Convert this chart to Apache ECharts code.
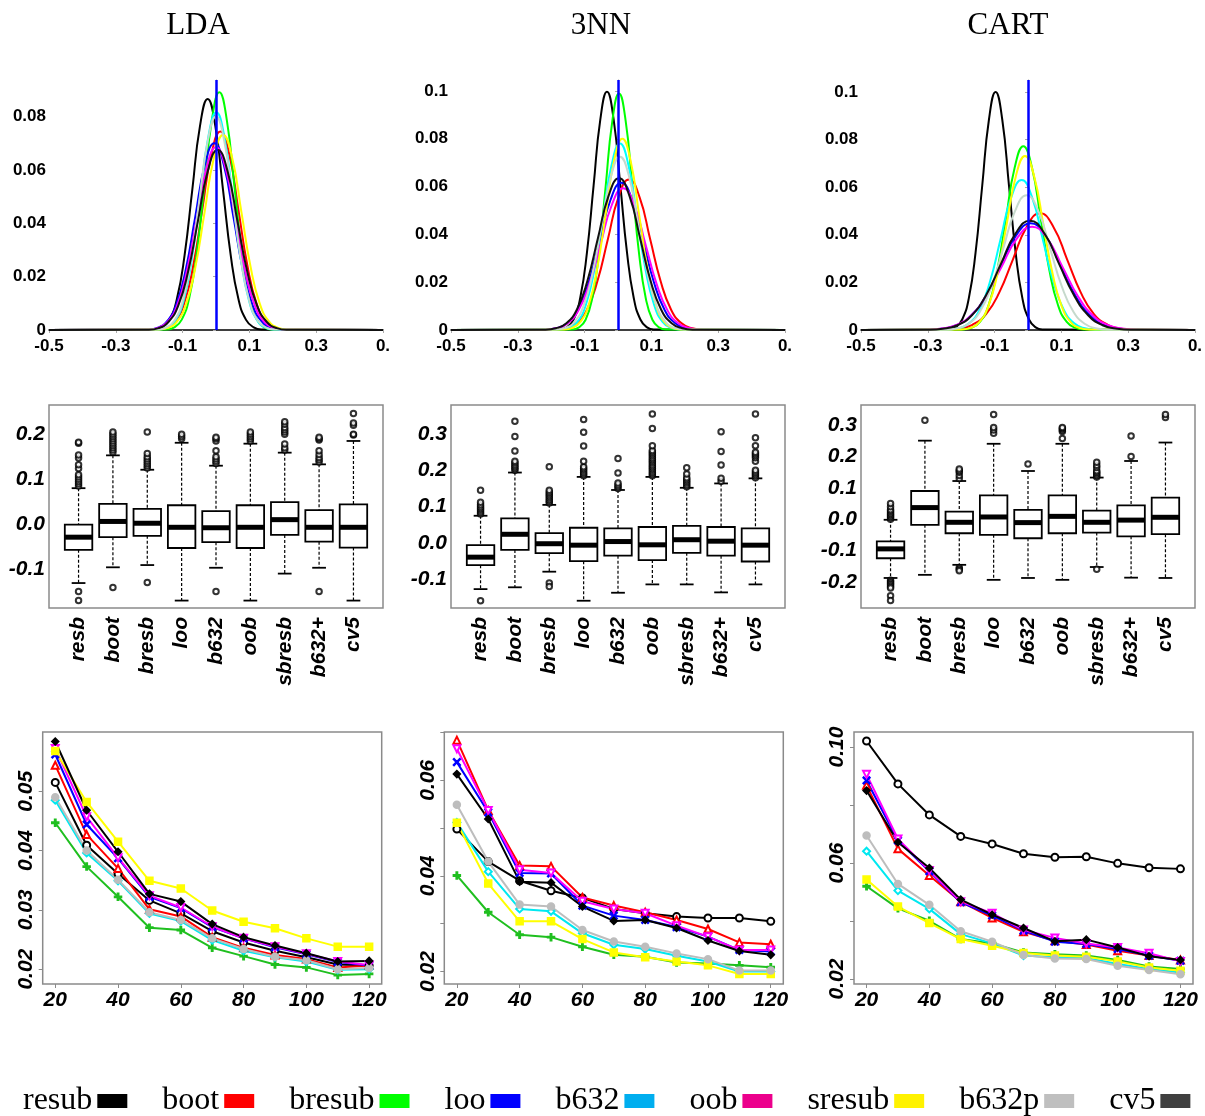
<!DOCTYPE html>
<html><head><meta charset="utf-8">
<script src="https://cdn.jsdelivr.net/npm/echarts@6/dist/echarts.min.js"></script>
<style>html,body{margin:0;padding:0;background:#fff}#chart{width:1205px;height:1116px}</style>
</head><body><div id="chart"></div>
<script>
// ---------------- DATA ----------------
const methods = ['resub','boot','bresub','loo','b632','oob','sresub','b632p','cv5'];
const boxCats = ['resb','boot','bresb','loo','b632','oob','sbresb','b632+','cv5'];
const panelTitles = ['LDA','3NN','CART'];
const sampleSizes = [20,30,40,50,60,70,80,90,100,110,120];
const densXTicks = [-0.5,-0.3,-0.1,0.1,0.3,0.5];

// density curves: x positions and density values
const lda_resub_x = [-0.5,-0.186,-0.163,-0.140,-0.117,-0.094,-0.071,-0.048,-0.025,-0.002,0.021,0.044,0.067,0.090,0.113,0.136,0.5];
const lda_resub_y = [0,0.0002,0.001,0.0038,0.0117,0.0281,0.0525,0.0764,0.0866,0.0764,0.0525,0.0281,0.0117,0.0038,0.001,0.0002,0];
const lda_boot_x = [-0.5,-0.176,-0.149,-0.122,-0.095,-0.068,-0.041,-0.014,0.013,0.040,0.067,0.094,0.121,0.148,0.175,0.202,0.5];
const lda_boot_y = [0,0.0002,0.0008,0.0033,0.0101,0.0242,0.0451,0.0657,0.0744,0.0657,0.0451,0.0242,0.0101,0.0033,0.0008,0.0002,0];
const lda_bresub_x = [-0.5,-0.1475,-0.125,-0.1025,-0.080,-0.0575,-0.035,-0.0125,0.010,0.0325,0.055,0.0775,0.100,0.1225,0.145,0.1675,0.5];
const lda_bresub_y = [0,0.0002,0.001,0.0039,0.0121,0.0289,0.0540,0.0786,0.0891,0.0786,0.0540,0.0289,0.0121,0.0039,0.001,0.0002,0];
const lda_loo_x = [-0.5,-0.2045,-0.176,-0.1475,-0.119,-0.0905,-0.062,-0.0335,-0.005,0.0235,0.052,0.0805,0.109,0.1375,0.166,0.1945,0.5];
const lda_loo_y = [0,0.0002,0.0008,0.0031,0.0095,0.0227,0.0425,0.0618,0.070,0.0618,0.0425,0.0227,0.0095,0.0031,0.0008,0.0002,0];
const lda_b632_x = [-0.5,-0.1705,-0.146,-0.1215,-0.097,-0.0725,-0.048,-0.0235,0.001,0.0255,0.050,0.0745,0.099,0.1235,0.148,0.1725,0.5];
const lda_b632_y = [0,0.0002,0.0009,0.0036,0.0110,0.0265,0.0495,0.0720,0.0816,0.0720,0.0495,0.0265,0.0110,0.0036,0.0009,0.0002,0];
const lda_oob_x = [-0.5,-0.203,-0.174,-0.145,-0.116,-0.087,-0.058,-0.029,0,0.029,0.058,0.087,0.116,0.145,0.174,0.203,0.5];
const lda_oob_y = [0,0.0002,0.0008,0.0030,0.0093,0.0222,0.0415,0.0605,0.0685,0.0605,0.0415,0.0222,0.0093,0.0030,0.0008,0.0002,0];
const lda_sresub_x = [-0.5,-0.1715,-0.144,-0.1165,-0.089,-0.0615,-0.034,-0.0065,0.021,0.0485,0.076,0.1035,0.131,0.1585,0.186,0.2135,0.5];
const lda_sresub_y = [0,0.0002,0.0008,0.0032,0.0099,0.0237,0.0443,0.0645,0.0731,0.0645,0.0443,0.0237,0.0099,0.0032,0.0008,0.0002,0];
const lda_b632p_x = [-0.5,-0.175,-0.15,-0.125,-0.1,-0.075,-0.05,-0.025,0,0.025,0.05,0.075,0.1,0.125,0.15,0.175,0.5];
const lda_b632p_y = [0,0.0002,0.0009,0.0035,0.0108,0.0260,0.0485,0.0706,0.080,0.0706,0.0485,0.0260,0.0108,0.0035,0.0009,0.0002,0];
const lda_cv5_x = [-0.5,-0.2015,-0.172,-0.1425,-0.113,-0.0835,-0.054,-0.0245,0.005,0.0345,0.064,0.0935,0.123,0.1525,0.182,0.2115,0.5];
const lda_cv5_y = [0,0.0001,0.0007,0.0030,0.0091,0.0219,0.0409,0.0596,0.0675,0.0596,0.0409,0.0219,0.0091,0.0030,0.0007,0.0001,0];

const nn_resub_x = [-0.5,-0.173,-0.153,-0.133,-0.113,-0.093,-0.073,-0.053,-0.033,-0.013,0.007,0.027,0.047,0.067,0.087,0.107,0.5];
const nn_resub_y = [0,0.0002,0.0011,0.0044,0.0135,0.0324,0.0605,0.0880,0.0997,0.0880,0.0605,0.0324,0.0135,0.0044,0.0011,0.0002,0];
const nn_boot_x = [-0.5,-0.1875,-0.156,-0.1245,-0.093,-0.0615,-0.030,0.0015,0.033,0.0645,0.096,0.1275,0.159,0.1905,0.222,0.2535,0.5];
const nn_boot_y = [0,0.0001,0.0007,0.0028,0.0085,0.0205,0.0382,0.0556,0.063,0.0556,0.0382,0.0205,0.0085,0.0028,0.0007,0.0001,0];
const nn_bresub_x = [-0.5,-0.137,-0.117,-0.097,-0.077,-0.057,-0.037,-0.017,0.003,0.023,0.043,0.063,0.083,0.103,0.123,0.143,0.5];
const nn_bresub_y = [0,0.0002,0.0011,0.0043,0.0134,0.0321,0.0600,0.0874,0.099,0.0874,0.0600,0.0321,0.0134,0.0043,0.0011,0.0002,0];
const nn_loo_x = [-0.5,-0.2175,-0.185,-0.1525,-0.120,-0.0875,-0.055,-0.0225,0.010,0.0425,0.075,0.1075,0.140,0.1725,0.205,0.2375,0.5];
const nn_loo_y = [0,0.0001,0.0007,0.0027,0.0083,0.0200,0.0374,0.0544,0.0616,0.0544,0.0374,0.0200,0.0083,0.0027,0.0007,0.0001,0];
const nn_b632_x = [-0.5,-0.1725,-0.147,-0.1215,-0.096,-0.0705,-0.045,-0.0195,0.006,0.0315,0.057,0.0825,0.108,0.1335,0.159,0.1845,0.5];
const nn_b632_y = [0,0.0002,0.0009,0.0034,0.0106,0.0253,0.0473,0.0688,0.078,0.0688,0.0473,0.0253,0.0106,0.0034,0.0009,0.0002,0];
const nn_oob_x = [-0.5,-0.2195,-0.186,-0.1525,-0.119,-0.0855,-0.052,-0.0185,0.015,0.0485,0.082,0.1155,0.149,0.1825,0.216,0.2495,0.5];
const nn_oob_y = [0,0.0001,0.0007,0.0026,0.0080,0.0193,0.0360,0.0523,0.0593,0.0523,0.0360,0.0193,0.0080,0.0026,0.0007,0.0001,0];
const nn_sresub_x = [-0.5,-0.162,-0.137,-0.112,-0.087,-0.062,-0.037,-0.012,0.013,0.038,0.063,0.088,0.113,0.138,0.163,0.188,0.5];
const nn_sresub_y = [0,0.0002,0.0009,0.0035,0.0108,0.0260,0.0485,0.0706,0.080,0.0706,0.0485,0.0260,0.0108,0.0035,0.0009,0.0002,0];
const nn_b632p_x = [-0.5,-0.1865,-0.159,-0.1315,-0.104,-0.0765,-0.049,-0.0215,0.006,0.0335,0.061,0.0885,0.116,0.1435,0.171,0.1985,0.5];
const nn_b632p_y = [0,0.0002,0.0008,0.0032,0.0098,0.0235,0.0440,0.0640,0.0725,0.0640,0.0440,0.0235,0.0098,0.0032,0.0008,0.0002,0];
const nn_cv5_x = [-0.5,-0.2175,-0.186,-0.1545,-0.123,-0.0915,-0.060,-0.0285,0.003,0.0345,0.066,0.0975,0.129,0.1605,0.192,0.2235,0.5];
const nn_cv5_y = [0,0.0001,0.0007,0.0028,0.0086,0.0206,0.0385,0.0560,0.0635,0.0560,0.0385,0.0206,0.0086,0.0028,0.0007,0.0001,0];

const cart_resub_x = [-0.5,-0.237,-0.217,-0.197,-0.177,-0.157,-0.137,-0.117,-0.097,-0.077,-0.057,-0.037,-0.017,0.003,0.023,0.043,0.5];
const cart_resub_y = [0,0.0002,0.0011,0.0044,0.0135,0.0325,0.0607,0.0883,0.100,0.0883,0.0607,0.0325,0.0135,0.0044,0.0011,0.0002,0];
const cart_boot_x = [-0.5,-0.2475,-0.207,-0.1665,-0.126,-0.0855,-0.045,-0.0045,0.036,0.0765,0.117,0.1575,0.198,0.2385,0.279,0.3195,0.5];
const cart_boot_y = [0,0.0001,0.0005,0.0022,0.0066,0.0159,0.0297,0.0432,0.049,0.0432,0.0297,0.0159,0.0066,0.0022,0.0005,0.0001,0];
const cart_bresub_x = [-0.5,-0.196,-0.170,-0.144,-0.118,-0.092,-0.066,-0.040,-0.014,0.012,0.038,0.064,0.090,0.116,0.142,0.168,0.5];
const cart_bresub_y = [0,0.0002,0.0009,0.0034,0.0104,0.0251,0.0468,0.0681,0.0772,0.0681,0.0468,0.0251,0.0104,0.0034,0.0009,0.0002,0];
const cart_loo_x = [-0.5,-0.3035,-0.259,-0.2145,-0.170,-0.1255,-0.081,-0.0365,0.008,0.0525,0.097,0.1415,0.186,0.2305,0.275,0.3195,0.5];
const cart_loo_y = [0,0.0001,0.0005,0.0020,0.0061,0.0145,0.0272,0.0395,0.0448,0.0395,0.0272,0.0145,0.0061,0.0020,0.0005,0.0001,0];
const cart_b632_x = [-0.5,-0.2395,-0.208,-0.1765,-0.145,-0.1135,-0.082,-0.0505,-0.019,0.0125,0.044,0.0755,0.107,0.1385,0.170,0.2015,0.5];
const cart_b632_y = [0,0.0001,0.0007,0.0028,0.0085,0.0205,0.0382,0.0556,0.063,0.0556,0.0382,0.0205,0.0085,0.0028,0.0007,0.0001,0];
const cart_oob_x = [-0.5,-0.310,-0.264,-0.218,-0.172,-0.126,-0.080,-0.034,0.012,0.058,0.104,0.150,0.196,0.242,0.288,0.334,0.5];
const cart_oob_y = [0,0.0001,0.0005,0.0019,0.0059,0.0141,0.0263,0.0383,0.0434,0.0383,0.0263,0.0141,0.0059,0.0019,0.0005,0.0001,0];
const cart_sresub_x = [-0.5,-0.2015,-0.174,-0.1465,-0.119,-0.0915,-0.064,-0.0365,-0.009,0.0185,0.046,0.0735,0.101,0.1285,0.156,0.1835,0.5];
const cart_sresub_y = [0,0.0002,0.0008,0.0032,0.0099,0.0237,0.0443,0.0645,0.0731,0.0645,0.0443,0.0237,0.0099,0.0032,0.0008,0.0002,0];
const cart_b632p_x = [-0.5,-0.249,-0.214,-0.179,-0.144,-0.109,-0.074,-0.039,-0.004,0.031,0.066,0.101,0.136,0.171,0.206,0.241,0.5];
const cart_b632p_y = [0,0.0001,0.0006,0.0025,0.0077,0.0184,0.0343,0.0499,0.0566,0.0499,0.0343,0.0184,0.0077,0.0025,0.0006,0.0001,0];
const cart_cv5_x = [-0.5,-0.2985,-0.255,-0.2115,-0.168,-0.1245,-0.081,-0.0375,0.006,0.0495,0.093,0.1365,0.180,0.2235,0.267,0.3105,0.5];
const cart_cv5_y = [0,0.0001,0.0005,0.0020,0.0062,0.0149,0.0278,0.0405,0.0459,0.0405,0.0278,0.0149,0.0062,0.0020,0.0005,0.0001,0];

// boxplot stats: [lower whisker, Q1, median, Q3, upper whisker]
const ldaBoxStats = [[-0.131,-0.057,-0.029,-0.001,0.080],[-0.096,-0.029,0.006,0.045,0.153],[-0.091,-0.026,0.002,0.034,0.121],[-0.170,-0.053,-0.007,0.042,0.181],[-0.097,-0.040,-0.008,0.029,0.130],[-0.170,-0.053,-0.007,0.042,0.179],[-0.110,-0.024,0.010,0.049,0.159],[-0.097,-0.039,-0.007,0.031,0.133],[-0.170,-0.052,-0.007,0.044,0.185]];
const ldaOutliers = [[-0.150,-0.170,0.085,0.09,0.095,0.10,0.105,0.11,0.124,0.132,0.147,0.154,0.18,0.182],[-0.141,0.16,0.165,0.17,0.175,0.18,0.185,0.19,0.195,0.2,0.205],[-0.130,0.125,0.13,0.135,0.14,0.145,0.15,0.157,0.205],[0.19,0.195,0.2],[-0.150,0.135,0.14,0.145,0.15,0.163,0.185,0.19,0.193],[0.185,0.19,0.195,0.2,0.205],[0.165,0.17,0.178,0.2,0.205,0.21,0.215,0.222,0.228],[-0.150,0.138,0.143,0.148,0.155,0.163,0.187,0.19,0.193],[0.198,0.2,0.22,0.225,0.246]];
const nnBoxStats = [[-0.127,-0.061,-0.039,-0.006,0.075],[-0.122,-0.019,0.024,0.068,0.194],[-0.079,-0.028,-0.002,0.027,0.105],[-0.159,-0.050,-0.006,0.042,0.182],[-0.137,-0.035,0.004,0.040,0.146],[-0.114,-0.047,-0.005,0.044,0.182],[-0.114,-0.027,0.009,0.047,0.152],[-0.136,-0.035,0.005,0.044,0.164],[-0.114,-0.051,-0.006,0.040,0.178]];
const nnOutliers = [[-0.159,0.08,0.085,0.09,0.095,0.1,0.105,0.112,0.145],[0.2,0.205,0.21,0.215,0.22,0.225,0.253,0.293,0.335],[-0.11,-0.12,0.11,0.115,0.12,0.125,0.13,0.135,0.14,0.145,0.21],[0.185,0.19,0.195,0.2,0.205,0.21,0.225,0.267,0.305,0.34],[0.15,0.155,0.16,0.165,0.193,0.233],[0.185,0.19,0.195,0.2,0.205,0.21,0.215,0.22,0.225,0.23,0.235,0.24,0.245,0.25,0.255,0.268,0.315,0.355],[0.155,0.16,0.165,0.17,0.175,0.18,0.19,0.207],[0.17,0.178,0.215,0.252,0.306],[0.18,0.185,0.19,0.195,0.2,0.225,0.235,0.24,0.245,0.25,0.268,0.29,0.355]];
const cartBoxStats = [[-0.188,-0.125,-0.095,-0.071,-0.002],[-0.178,-0.018,0.037,0.090,0.251],[-0.146,-0.045,-0.010,0.024,0.122],[-0.194,-0.050,0.007,0.076,0.241],[-0.188,-0.061,-0.011,0.030,0.154],[-0.194,-0.045,0.009,0.076,0.241],[-0.153,-0.043,-0.010,0.027,0.133],[-0.187,-0.055,-0.003,0.044,0.186],[-0.188,-0.048,0.006,0.069,0.245]];
const cartOutliers = [[0.0,0.005,0.01,0.015,0.02,0.025,0.03,0.04,0.05,-0.195,-0.2,-0.205,-0.21,-0.215,-0.22,-0.245,-0.26],[0.316],[0.13,0.14,0.15,0.155,0.16,-0.155,-0.16,-0.165],[0.275,0.285,0.293,0.335],[0.176],[0.258,0.28,0.285,0.29,0.293],[0.135,0.14,0.145,0.15,0.155,0.165,0.172,0.182,-0.16],[0.2,0.266],[0.325,0.335]];

// error vs sample size
const errLDA_resub = [0.0515,0.0409,0.0361,0.0316,0.0294,0.0264,0.0245,0.0231,0.0220,0.0208,0.0206];
const errLDA_boot = [0.0544,0.0427,0.0370,0.0301,0.0289,0.0254,0.0236,0.0224,0.0217,0.0203,0.0206];
const errLDA_bresub = [0.0447,0.0373,0.0322,0.0270,0.0266,0.0236,0.0222,0.0208,0.0203,0.0190,0.0192];
const errLDA_loo = [0.0562,0.0444,0.0387,0.0322,0.0303,0.0271,0.0252,0.0237,0.0225,0.0212,0.0206];
const errLDA_b632 = [0.0485,0.0396,0.0349,0.0294,0.0281,0.0249,0.0231,0.0220,0.0213,0.0199,0.0200];
const errLDA_oob = [0.0572,0.0457,0.0388,0.0324,0.0304,0.0272,0.0252,0.0238,0.0226,0.0213,0.0207];
const errLDA_sresub = [0.0568,0.0482,0.0415,0.0349,0.0336,0.0299,0.0280,0.0269,0.0252,0.0238,0.0238];
const errLDA_b632p = [0.0490,0.0400,0.0351,0.0296,0.0283,0.0252,0.0234,0.0221,0.0215,0.0200,0.0202];
const errLDA_cv5 = [0.0584,0.0468,0.0398,0.0327,0.0314,0.0276,0.0254,0.0240,0.0227,0.0213,0.0214];

const err3NN_resub = [0.0498,0.0430,0.0390,0.0369,0.0354,0.0331,0.0322,0.0315,0.0312,0.0312,0.0305];
const err3NN_boot = [0.0684,0.0537,0.0422,0.0420,0.0355,0.0338,0.0324,0.0308,0.0289,0.0261,0.0257];
const err3NN_bresub = [0.0401,0.0324,0.0277,0.0272,0.0252,0.0235,0.0231,0.0219,0.0217,0.0213,0.0209];
const err3NN_loo = [0.0638,0.0533,0.0406,0.0405,0.0338,0.0317,0.0308,0.0293,0.0273,0.0245,0.0242];
const err3NN_b632 = [0.0512,0.0409,0.0331,0.0326,0.0280,0.0256,0.0247,0.0233,0.0221,0.0200,0.0200];
const err3NN_oob = [0.0666,0.0537,0.0413,0.0406,0.0347,0.0331,0.0322,0.0296,0.0273,0.0245,0.0245];
const err3NN_sresub = [0.0511,0.0384,0.0305,0.0305,0.0268,0.0240,0.0230,0.0221,0.0213,0.0195,0.0195];
const err3NN_b632p = [0.0549,0.0430,0.0340,0.0336,0.0287,0.0263,0.0252,0.0238,0.0226,0.0202,0.0202];
const err3NN_cv5 = [0.0613,0.0519,0.0388,0.0386,0.0336,0.0306,0.0308,0.0291,0.0265,0.0243,0.0235];

const errCART_resub = [0.1021,0.0873,0.0766,0.0692,0.0666,0.0632,0.0620,0.0622,0.0599,0.0584,0.0580];
const errCART_boot = [0.0868,0.0649,0.0557,0.0467,0.0411,0.0363,0.0332,0.0319,0.0298,0.0281,0.0266];
const errCART_bresub = [0.0520,0.0444,0.0401,0.0338,0.0323,0.0292,0.0286,0.0281,0.0266,0.0243,0.0235];
const errCART_loo = [0.0885,0.0678,0.0572,0.0465,0.0419,0.0367,0.0329,0.0321,0.0304,0.0281,0.0263];
const errCART_b632 = [0.0641,0.0505,0.0442,0.0355,0.0323,0.0281,0.0275,0.0273,0.0252,0.0235,0.0223];
const errCART_oob = [0.0906,0.0683,0.0574,0.0467,0.0427,0.0369,0.0342,0.0323,0.0309,0.0289,0.0261];
const errCART_sresub = [0.0543,0.0450,0.0393,0.0338,0.0315,0.0290,0.0281,0.0277,0.0261,0.0240,0.0229];
const errCART_b632p = [0.0695,0.0528,0.0456,0.0365,0.0329,0.0283,0.0271,0.0269,0.0246,0.0231,0.0217];
const errCART_cv5 = [0.0850,0.0672,0.0583,0.0474,0.0422,0.0376,0.0330,0.0336,0.0309,0.0279,0.0266];

// ---------------- STYLE / LAYOUT ----------------
const densColors = ['#000000','#ff0000','#00ff00','#0000ff','#00ffff','#ff00ff','#ffff00','#c6d9cc','#111111'];
const lineColors = ['#000000','#ff0000','#1fbf1f','#0000ff','#00e8f0','#ff00ff','#ffff00','#bdbdbd','#000000'];
const legendColors = ['#000000','#ff0000','#00ff00','#0000ff','#00aeef','#ec008c','#fff200','#bfbfbf','#404040'];
const symbols = ['emptyCircle','emptyTriangle','path://M4,0h2v4h4v2h-4v4h-2v-4h-4v-2h4z',
  'path://M1,0L5,4L9,0L10,1L6,5L10,9L9,10L5,6L1,10L0,9L4,5L0,1Z','emptyDiamond',
  'emptyPath://M0,0L10,0L5,10Z','rect','circle','diamond'];
const SANS = 'Liberation Sans', SERIF = 'Liberation Serif';
const panelLefts = [[49,451,861],[49,451,861],[42.7,444.3,854]];
const titleCenters = [193,596,1003];
const densYMax = [0.0937,0.1046,0.1050];
const densYTicks = [[0,0.02,0.04,0.06,0.08],[0,0.02,0.04,0.06,0.08,0.1],[0,0.02,0.04,0.06,0.08,0.1]];
const boxYRange = [[-0.1865,0.265],[-0.179,0.380],[-0.284,0.365]];
const boxYTicks = [[-0.1,0,0.1,0.2],[-0.1,0,0.1,0.2,0.3],[-0.2,-0.1,0,0.1,0.2,0.3]];
const lineYRange = [[0.0175,0.0600],[0.0174,0.0701],[0.0183,0.1052]];
const lineYTicks = [[0.02,0.03,0.04,0.05],[0.02,0.03,0.04,0.05,0.06,0.07],[0.02,0.04,0.06,0.08,0.10]];
const lineYLabels = [[0.02,0.03,0.04,0.05],[0.02,0.04,0.06],[0.02,0.06,0.10]];

const densX = [
  [lda_resub_x,lda_boot_x,lda_bresub_x,lda_loo_x,lda_b632_x,lda_oob_x,lda_sresub_x,lda_b632p_x,lda_cv5_x],
  [nn_resub_x,nn_boot_x,nn_bresub_x,nn_loo_x,nn_b632_x,nn_oob_x,nn_sresub_x,nn_b632p_x,nn_cv5_x],
  [cart_resub_x,cart_boot_x,cart_bresub_x,cart_loo_x,cart_b632_x,cart_oob_x,cart_sresub_x,cart_b632p_x,cart_cv5_x]
];
const densY = [
  [lda_resub_y,lda_boot_y,lda_bresub_y,lda_loo_y,lda_b632_y,lda_oob_y,lda_sresub_y,lda_b632p_y,lda_cv5_y],
  [nn_resub_y,nn_boot_y,nn_bresub_y,nn_loo_y,nn_b632_y,nn_oob_y,nn_sresub_y,nn_b632p_y,nn_cv5_y],
  [cart_resub_y,cart_boot_y,cart_bresub_y,cart_loo_y,cart_b632_y,cart_oob_y,cart_sresub_y,cart_b632p_y,cart_cv5_y]
];
const boxStats = [ldaBoxStats, nnBoxStats, cartBoxStats];
const boxOut = [ldaOutliers, nnOutliers, cartOutliers];
const errData = [
  [errLDA_resub,errLDA_boot,errLDA_bresub,errLDA_loo,errLDA_b632,errLDA_oob,errLDA_sresub,errLDA_b632p,errLDA_cv5],
  [err3NN_resub,err3NN_boot,err3NN_bresub,err3NN_loo,err3NN_b632,err3NN_oob,err3NN_sresub,err3NN_b632p,err3NN_cv5],
  [errCART_resub,errCART_boot,errCART_bresub,errCART_loo,errCART_b632,errCART_oob,errCART_sresub,errCART_b632p,errCART_cv5]
];

// ---------------- BUILD ----------------
const grids = [], xAxes = [], yAxes = [], series = [];
function addGrid(cfg){ grids.push(Object.assign({containLabel:false, outerBoundsMode:'none'}, cfg)); return grids.length-1; }
function addX(cfg){ xAxes.push(cfg); return xAxes.length-1; }
function addY(cfg){ yAxes.push(cfg); return yAxes.length-1; }
const noLine = {show:false}, noTick = {show:false}, noSplit = {show:false};
const fmtNum = v => String(Number(v.toFixed(3)));

for (let p = 0; p < 3; p++) {
  // ---- density panel ----
  const g = addGrid({left: panelLefts[0][p], top: 80, width: 334, height: 250});
  const xi = addX({type:'value', gridIndex:g, min:-0.5, max:0.5, position:'bottom',
    axisLine:{show:true, onZero:false, lineStyle:{color:'#000', width:1.5}}, axisTick:noTick, splitLine:noSplit,
    axisLabel:{customValues:densXTicks, formatter: v => (Math.abs(v-0.5)<1e-9 ? '0.' : v.toFixed(1)),
      fontFamily:SANS, fontWeight:'bold', fontSize:17, color:'#000', margin:8}});
  const yi = addY({type:'value', gridIndex:g, min:0, max:densYMax[p],
    axisLine:{show:true, lineStyle:{color:'#9a9a9a', width:1}}, axisTick:noTick, splitLine:noSplit,
    axisLabel:{customValues:densYTicks[p], formatter: fmtNum, fontFamily:SANS, fontWeight:'bold', fontSize:17, color:'#000', margin:3}});
  addX({type:'value', gridIndex:g, min:-0.5, max:0.5, position:'top', axisLine:noLine, splitLine:noSplit,
    axisTick:{show:true, inside:true, length:3, customValues:densXTicks, lineStyle:{color:'#aaa'}}, axisLabel:{show:false}});
  addY({type:'value', gridIndex:g, min:0, max:densYMax[p], position:'right', axisLine:noLine, splitLine:noSplit,
    axisTick:{show:true, inside:true, length:3, customValues:densYTicks[p], lineStyle:{color:'#aaa'}}, axisLabel:{show:false}});
  densX[p].forEach((xs, m) => {
    const ys = densY[p][m];
    series.push({type:'line', name:methods[m], xAxisIndex:xi, yAxisIndex:yi, data: xs.map((x, i) => [x, ys[i]]),
      smooth:0.5, symbol:'none', lineStyle:{color:densColors[m], width:2},
      itemStyle:{color:densColors[m]}, silent:true, z:3});
  });
  series.push({type:'line', xAxisIndex:xi, yAxisIndex:yi, data:[], silent:true, z:5,
    markLine:{silent:true, symbol:'none', label:{show:false}, lineStyle:{color:'#0000ff', width:2.5, type:'solid'},
      data:[{xAxis:0}]}});

  // ---- boxplot panel ----
  const gb = addGrid({left: panelLefts[1][p], top: 405, width: 334, height: 203, show:true,
    borderColor:'#8a8a8a', borderWidth:1.5, backgroundColor:'transparent'});
  const bx = addX({type:'value', gridIndex:gb, min:0.14, max:9.86, axisLine:noLine, axisTick:noTick, splitLine:noSplit,
    axisLabel:{customValues:[1,2,3,4,5,6,7,8,9], formatter: v => boxCats[Math.round(v)-1], rotate:90,
      fontFamily:SANS, fontStyle:'italic', fontWeight:'bold', fontSize:21, color:'#000', margin:9}});
  const by = addY({type:'value', gridIndex:gb, min:boxYRange[p][0], max:boxYRange[p][1], axisLine:noLine, axisTick:noTick, splitLine:noSplit,
    axisLabel:{customValues:boxYTicks[p], formatter: v => v.toFixed(1), fontFamily:SANS, fontStyle:'italic', fontWeight:'bold', fontSize:21, color:'#000', margin:4}});
  series.push({type:'custom', xAxisIndex:bx, yAxisIndex:by, clip:false, silent:true, z:3,
    data: boxStats[p].map((s, i) => [i+1].concat(s)), encode:{x:0, y:[1,2,3,4,5]},
    renderItem: function (params, api) {
      const x = api.value(0);
      const lo = api.coord([x, api.value(1)]), q1 = api.coord([x, api.value(2)]), md = api.coord([x, api.value(3)]);
      const q3 = api.coord([x, api.value(4)]), hi = api.coord([x, api.value(5)]);
      const bw = api.size([1, 0])[0] * 0.8, cx = md[0], hw = bw/2, sw = bw/4;
      const dash = {stroke:'#000', lineWidth:1.2, lineDash:[3,2]}, solid = {stroke:'#000', lineWidth:1.8};
      return {type:'group', children:[
        {type:'line', shape:{x1:cx,y1:hi[1],x2:cx,y2:q3[1]}, style:dash},
        {type:'line', shape:{x1:cx,y1:q1[1],x2:cx,y2:lo[1]}, style:dash},
        {type:'line', shape:{x1:cx-sw,y1:hi[1],x2:cx+sw,y2:hi[1]}, style:solid},
        {type:'line', shape:{x1:cx-sw,y1:lo[1],x2:cx+sw,y2:lo[1]}, style:solid},
        {type:'rect', shape:{x:cx-hw,y:q3[1],width:bw,height:q1[1]-q3[1]}, style:{fill:'#fff', stroke:'#000', lineWidth:1.8}},
        {type:'line', shape:{x1:cx-hw,y1:md[1],x2:cx+hw,y2:md[1]}, style:{stroke:'#000', lineWidth:5}}
      ]};
    }});
  const outPts = [];
  boxOut[p].forEach((arr, i) => arr.forEach(v => outPts.push([i+1, v])));
  series.push({type:'scatter', xAxisIndex:bx, yAxisIndex:by, data:outPts, symbol:'emptyCircle', symbolSize:5.5, silent:true, z:4,
    itemStyle:{color:'#000', borderColor:'#000', borderWidth:1.3}});

  // ---- error line panel ----
  const gl = addGrid({left: panelLefts[2][p], top: 732, width: 339, height: 252, show:true,
    borderColor:'#8a8a8a', borderWidth:1.5, backgroundColor:'transparent'});
  const lx = addX({type:'value', gridIndex:gl, min:16, max:124, axisLine:noLine, splitLine:noSplit,
    axisTick:{show:true, length:4, customValues:[20,40,60,80,100,120], lineStyle:{color:'#8a8a8a'}},
    axisLabel:{customValues:[20,40,60,80,100,120], fontFamily:SANS, fontStyle:'italic', fontWeight:'bold', fontSize:21, color:'#000', margin:6}});
  const ly = addY({type:'value', gridIndex:gl, min:lineYRange[p][0], max:lineYRange[p][1], axisLine:noLine, splitLine:noSplit,
    axisTick:{show:true, length:4, customValues:lineYTicks[p], lineStyle:{color:'#8a8a8a'}},
    axisLabel:{customValues:lineYLabels[p], formatter: v => v.toFixed(2), rotate:90,
      fontFamily:SANS, fontStyle:'italic', fontWeight:'bold', fontSize:21, color:'#000', margin:6}});
  errData[p].forEach((arr, m) => {
    series.push({type:'line', name:methods[m], xAxisIndex:lx, yAxisIndex:ly,
      data: sampleSizes.map((s, i) => [s, arr[i]]), symbol:symbols[m], symbolSize:7, silent:true, z:3,
      lineStyle:{color:lineColors[m], width:2}, itemStyle:{color:lineColors[m], borderColor:lineColors[m], borderWidth:1.5}});
  });
}

const option = {
  animation:false,
  backgroundColor:'#fff',
  title: panelTitles.map((t, i) => ({text:t, left:titleCenters[i], top:5, textAlign:'center',
    textStyle:{fontFamily:SERIF, fontSize:31, fontWeight:'normal', color:'#000'}})),
  legend:{left:18, top:1080, orient:'horizontal', align:'right', icon:'rect', itemWidth:30, itemHeight:14, itemGap:35,
    selectedMode:false, textStyle:{fontFamily:SERIF, fontSize:32, color:'#000'},
    data: methods.map((n, i) => ({name:n, icon:'rect', itemStyle:{color:legendColors[i], borderWidth:0}}))},
  grid: grids, xAxis: xAxes, yAxis: yAxes, series: series
};
const chart = echarts.init(document.getElementById('chart'), null, {renderer:'canvas', width:1205, height:1116});
chart.setOption(option);
</script></body></html>
